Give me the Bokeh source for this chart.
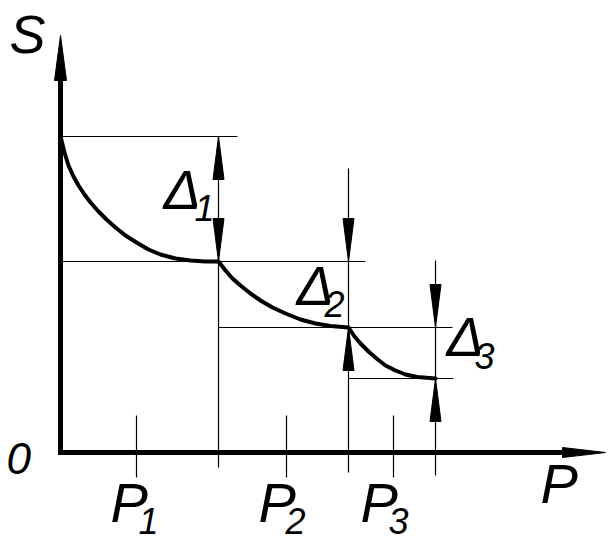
from bokeh.plotting import figure
from bokeh.models import Range1d
from bokeh.embed import file_html
from bokeh.resources import INLINE
from bokeh.core.properties import value

# ---- data (schematic units: P along x, S along y) ----
p_bounds = [0, 158, 288, 375]          # stage boundaries on P
s_levels = [316, 191, 125, 74]         # S at the start / end of each stage
p_ticks = [76, 226, 333]               # P1, P2, P3 positions
p_subs = ["1", "2", "3"]
d_subs = ["1", "2", "3"]

seg1_x = [0, 4, 8, 13, 18, 24, 30, 38, 46, 55, 65, 76, 88, 100, 115, 130, 145, 158]
seg1_y = [316, 300, 287, 276, 267, 258, 250, 241, 233, 225, 217, 210, 203, 198, 194, 192, 191, 191]
seg2_x = [158, 165, 172, 180, 190, 200, 212, 225, 240, 255, 270, 288]
seg2_y = [191, 182, 174, 167, 159, 152, 145, 139, 133, 129, 126.5, 125]
seg3_x = [288, 294, 300, 308, 316, 325, 335, 345, 357, 375]
seg3_y = [125, 116, 109, 101, 94, 87, 82, 78, 75.5, 74]

# ---- layout / style constants ----
W, H = 609, 554
X0, Y0 = -60, -102
FONT = value("Liberation Sans")
HEAD_L, HEAD_HW = 43, 5.5

p = figure(width=W, height=H, x_range=Range1d(X0, X0 + W), y_range=Range1d(Y0, Y0 + H),
           x_axis_type=None, y_axis_type=None, toolbar_location=None,
           output_backend="svg", min_border=0, outline_line_color=None,
           background_fill_color="white", border_fill_color="white")
p.grid.visible = False


def head(x, yt, d, L=HEAD_L, hw=HEAD_HW):
    # vertical arrowhead, tip at (x, yt), d=+1 points up, -1 points down
    return [x, x - hw, x + hw], [yt, yt - d * L, yt - d * L]


def hhead(xt, y, L, hw):
    return [xt, xt - L, xt - L], [y, y - hw, y + hw]


# axes
y_tip = 417
x_tip = 545
p.line([0, 0], [-2.5, y_tip - 40], line_width=5, line_color="black")
p.line([-2.5, x_tip - 38], [0, 0], line_width=5, line_color="black")
hx, hy = head(0, y_tip, 1, 45, 6)
p.patch(hx, hy, fill_color="black", line_color="black", line_width=1)
hx, hy = hhead(x_tip, 0, 43, 5)
p.patch(hx, hy, fill_color="black", line_color="black", line_width=1)

# thin extension lines (horizontal)
thin = dict(line_width=1.2, line_color="black")
p.line([p_bounds[0], 177], [s_levels[0]] * 2, **thin)
p.line([p_bounds[0], 305], [s_levels[1]] * 2, **thin)
p.line([p_bounds[1], 392], [s_levels[2]] * 2, **thin)
p.line([p_bounds[2], 393], [s_levels[3]] * 2, **thin)

# thin vertical lines at stage boundaries
p.line([p_bounds[1]] * 2, [s_levels[0], -15], **thin)
p.line([p_bounds[2]] * 2, [284, -20], **thin)
p.line([p_bounds[3]] * 2, [192, -23], **thin)

# P tick marks
for t in p_ticks:
    p.line([t, t], [37, -25], **thin)

# dimension arrowheads
heads = [
    head(p_bounds[1], s_levels[0], 1),
    head(p_bounds[1], s_levels[1], -1),
    head(p_bounds[2], s_levels[1], -1),
    head(p_bounds[2], s_levels[2], 1),
    head(p_bounds[3], s_levels[2], -1),
    head(p_bounds[3], s_levels[3], 1),
]
p.patches([h[0] for h in heads], [h[1] for h in heads],
          fill_color="black", line_color="black", line_width=1)

# curve
for sx, sy in [(seg1_x, seg1_y), (seg2_x, seg2_y), (seg3_x, seg3_y)]:
    p.line(sx, sy, line_width=4, line_color="black", line_join="round", line_cap="round")

# labels
big = dict(text_font=FONT, text_font_style="italic", text_font_size="56px",
           text_baseline="alphabetic", text_align="left", text_color="black")
small = dict(big, text_font_size="36px")

p.text(x=[-51], y=[419], text=["S"], **dict(big, text_font_size="54px"))
p.text(x=[-54], y=[-6], text=["0"], **dict(big, text_font_size="44px"))
p.text(x=[480], y=[-31], text=["P"], **big)

p_lab_x = [50, 198, 300]
p_sub_x = [78, 225, 328]
p.text(x=p_lab_x, y=[-50] * 3, text=["P"] * 3, **big)
p.text(x=p_sub_x, y=[-68] * 3, text=p_subs, **small)

d_lab_x = [103, 236, 386]
d_lab_y = [263, 167, 116]
d_sub_x = [134, 264, 414]
d_sub_y = [245, 149, 97]
p.text(x=d_lab_x, y=d_lab_y, text=["Δ"] * 3, **big)
p.text(x=d_sub_x, y=d_sub_y, text=d_subs, **small)

open("out.html", "w").write(file_html(p, INLINE))
